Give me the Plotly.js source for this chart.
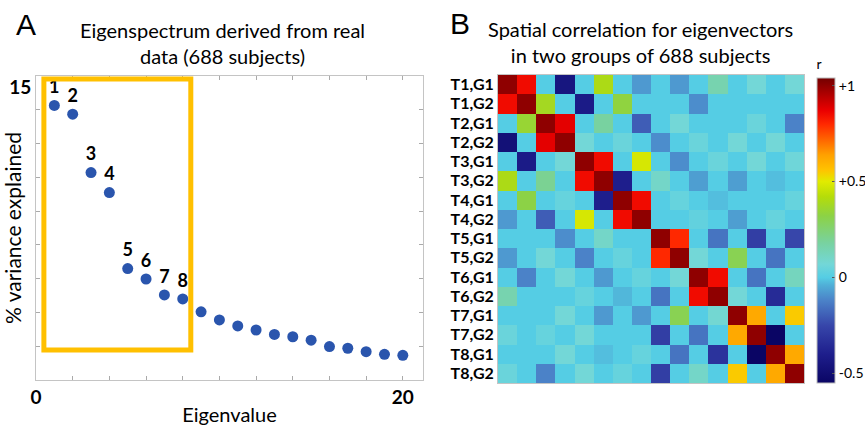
<!DOCTYPE html>
<html>
<head>
<meta charset="utf-8">
<script src="https://cdn.plot.ly/plotly-3.0.1.min.js"></script>
<style>html,body{margin:0;padding:0;background:#fff;}#chart{width:865px;height:426px;}</style>
</head>
<body>
<div id="chart"></div>
<script>
// ---- Panel A data ----
const eigenIndex = [1,2,3,4,5,6,7,8,9,10,11,12,13,14,15,16,17,18,19,20];
const varianceExplained = [14.13,13.87,12.14,11.55,9.30,8.99,8.52,8.40,8.02,7.78,7.60,7.48,7.35,7.28,7.18,6.99,6.94,6.84,6.76,6.73];
const pointLabels = ['1','2','3','4','5','6','7','8','','','','','','','','','','','',''];
const xTickVals = [0,2,4,6,8,10,12,14,16,18,20];
const xTickText = ['0','','','','','','','','','','20'];
const yTickVals = [6,7,8,9,10,11,12,13,14,15];
const yTickText = ['','','','','','','','','','15'];

// ---- Panel B data ----
const groupLabels = ['T1,G1','T1,G2','T2,G1','T2,G2','T3,G1','T3,G2','T4,G1','T4,G2',
                     'T5,G1','T5,G2','T6,G1','T6,G2','T7,G1','T7,G2','T8,G1','T8,G2'];
const rowT1G1 = [1.00,0.85,0.00,-0.45,0.00,0.40,0.00,-0.08,0.00,-0.08,0.00,0.15,0.00,0.07,0.00,0.07];
const rowT1G2 = [0.85,1.00,0.38,0.00,-0.42,0.00,0.33,0.00,0.00,0.00,-0.10,0.00,0.00,0.00,0.00,0.00];
const rowT2G1 = [0.00,0.35,1.00,0.88,0.00,0.18,0.00,-0.20,0.00,0.07,0.00,0.00,0.00,0.05,0.00,-0.12];
const rowT2G2 = [-0.48,0.00,0.88,1.00,0.07,0.00,0.05,0.00,-0.10,0.00,0.05,0.00,0.07,0.00,0.07,0.00];
const rowT3G1 = [0.00,-0.42,0.00,0.07,1.00,0.85,0.00,0.48,0.00,-0.10,0.00,0.05,0.00,0.07,0.00,0.06];
const rowT3G2 = [0.40,0.00,0.20,0.00,0.85,1.00,-0.40,0.00,0.10,0.00,-0.07,0.00,-0.07,0.00,-0.02,0.00];
const rowT4G1 = [0.00,0.32,0.00,0.04,0.00,-0.40,1.00,0.85,0.00,0.04,0.00,-0.02,0.00,0.00,0.00,0.04];
const rowT4G2 = [-0.08,0.00,-0.20,0.00,0.48,0.00,0.85,1.00,0.00,0.00,0.03,0.00,-0.07,0.00,0.04,0.00];
const rowT5G1 = [0.00,0.00,0.00,-0.10,0.00,0.10,0.00,0.00,1.00,0.80,0.00,-0.15,0.00,-0.28,0.00,-0.25];
const rowT5G2 = [-0.08,0.00,0.07,0.00,-0.12,0.00,0.04,0.00,0.80,1.00,0.07,0.00,0.30,0.00,-0.15,0.00];
const rowT6G1 = [0.00,-0.12,0.00,0.07,0.00,-0.08,0.00,0.04,0.00,0.07,1.00,0.85,0.00,-0.15,0.00,0.12];
const rowT6G2 = [0.15,0.00,0.00,0.00,0.04,0.00,-0.03,0.00,-0.15,0.00,0.85,1.00,0.07,0.00,-0.35,0.00];
const rowT7G1 = [0.00,0.00,0.00,0.07,0.00,-0.08,0.00,-0.08,0.00,0.30,0.00,0.08,1.00,0.62,0.00,0.55];
const rowT7G2 = [0.05,0.00,0.04,0.00,0.07,0.00,0.00,0.00,-0.28,0.00,-0.15,0.00,0.62,1.00,-0.55,0.00];
const rowT8G1 = [0.00,0.00,0.00,0.07,0.00,-0.02,0.00,0.04,0.00,-0.15,0.00,-0.32,0.00,-0.55,1.00,0.62];
const rowT8G2 = [0.05,0.00,-0.12,0.00,0.07,0.00,0.04,0.00,-0.28,0.00,0.10,0.00,0.55,0.00,0.62,1.00];
const corrMatrix = [rowT1G1,rowT1G2,rowT2G1,rowT2G2,rowT3G1,rowT3G2,rowT4G1,rowT4G2,
                    rowT5G1,rowT5G2,rowT6G1,rowT6G2,rowT7G1,rowT7G2,rowT8G1,rowT8G2];
const cbTickVals = [1,0.5,0,-0.5];
const cbTickText = ['+1','+0.5','0','-0.5'];

// ---- Styling ----
const FONT = 'Lato, "Open Sans", sans-serif';
const W = 865, H = 426;
const px = v => v / W;
const py = v => 1 - v / H;

const zMin = -0.55, zMax = 1.04;
const t = v => (v - zMin) / (zMax - zMin);
const colorscale = [
  [0, 'rgb(10,5,100)'],
  [t(-0.40), 'rgb(30,30,140)'],
  [t(-0.25), 'rgb(55,70,170)'],
  [t(-0.12), 'rgb(75,130,200)'],
  [t(-0.04), 'rgb(80,175,215)'],
  [t(0.00), 'rgb(85,205,228)'],
  [t(0.07), 'rgb(115,215,215)'],
  [t(0.18), 'rgb(120,210,160)'],
  [t(0.32), 'rgb(140,210,70)'],
  [t(0.42), 'rgb(180,220,10)'],
  [t(0.50), 'rgb(225,235,0)'],
  [t(0.56), 'rgb(255,195,0)'],
  [t(0.64), 'rgb(255,160,0)'],
  [t(0.80), 'rgb(255,40,0)'],
  [t(0.87), 'rgb(235,0,0)'],
  [1, 'rgb(115,0,0)']
];

const scatter = {
  type: 'scatter', mode: 'markers+text',
  x: eigenIndex, y: varianceExplained,
  text: pointLabels, textposition: 'top center',
  textfont: {family: FONT, size: 18, color: '#000', weight: 700},
  marker: {size: 11, color: '#2a55ad'},
  xaxis: 'x', yaxis: 'y', hoverinfo: 'x+y', showlegend: false
};

const heat = {
  type: 'heatmap', z: corrMatrix, x: groupLabels, y: groupLabels,
  xaxis: 'x2', yaxis: 'y2',
  zmin: zMin, zmax: zMax, colorscale: colorscale,
  colorbar: {
    x: px(817), xanchor: 'left', y: py(383), yanchor: 'bottom',
    len: (383 - 56) / H, lenmode: 'fraction', thickness: 18, thicknessmode: 'pixels',
    xpad: 0, ypad: 0,
    outlinewidth: 1, outlinecolor: '#bbb',
    tickvals: cbTickVals, ticktext: cbTickText,
    ticks: 'inside', ticklen: 3, tickcolor: '#555',
    tickfont: {family: FONT, size: 14, color: '#000'},
    title: {text: '  r', side: 'top', font: {family: FONT, size: 14, color: '#000'}}
  }
};

const layout = {
  width: W, height: H,
  margin: {l: 0, r: 0, t: 0, b: 0, autoexpand: false},
  paper_bgcolor: '#fff', plot_bgcolor: '#fff',
  font: {family: FONT, color: '#000'},
  xaxis: {
    domain: [px(36), px(423)], range: [0, 21.1],
    tickvals: xTickVals, ticktext: xTickText,
    ticks: 'inside', ticklen: 4, tickcolor: '#aaa',
    showline: true, linecolor: '#c4c4c4', linewidth: 1, mirror: 'ticks',
    showgrid: false, zeroline: false,
    tickfont: {family: FONT, size: 19, color: '#000', weight: 700},
    title: {text: 'Eigenvalue', font: {family: FONT, size: 20, color: '#000'}, standoff: 5}
  },
  yaxis: {
    domain: [py(380), py(76)], range: [6, 15],
    tickvals: yTickVals, ticktext: yTickText,
    ticks: 'inside', ticklen: 4, tickcolor: '#aaa',
    showline: true, linecolor: '#c4c4c4', linewidth: 1, mirror: 'ticks',
    showgrid: false, zeroline: false,
    ticklabelshift: 11,
    tickfont: {family: FONT, size: 19, color: '#000', weight: 700},
    title: {text: '% variance explained', font: {family: FONT, size: 21, color: '#000'}, standoff: 0}
  },
  xaxis2: {
    domain: [px(498), px(804)], anchor: 'y2',
    type: 'category', categoryarray: groupLabels,
    showticklabels: false, ticks: '', showgrid: false, zeroline: false,
    showline: true, linecolor: '#c4c4c4', mirror: true
  },
  yaxis2: {
    domain: [py(383), py(75)], anchor: 'x2',
    type: 'category', categoryarray: groupLabels, autorange: 'reversed',
    ticks: '', showgrid: false, zeroline: false,
    showline: true, linecolor: '#c4c4c4', mirror: true,
    tickfont: {family: FONT, size: 16, color: '#000', weight: 700}
  },
  shapes: [{
    type: 'rect', xref: 'x', yref: 'y',
    x0: 0.43, x1: 8.44, y0: 6.89, y1: 14.91,
    line: {color: '#ffc000', width: 5}, fillcolor: 'rgba(0,0,0,0)'
  }],
  annotations: [
    {text: 'A', xref: 'paper', yref: 'paper', x: px(25.5), y: py(24), xanchor: 'center', yanchor: 'middle', showarrow: false,
     font: {family: '"Liberation Sans", Arial, sans-serif', size: 30, color: '#000'}},
    {text: 'B', xref: 'paper', yref: 'paper', x: px(460), y: py(23.5), xanchor: 'center', yanchor: 'middle', showarrow: false,
     font: {family: '"Liberation Sans", Arial, sans-serif', size: 30, color: '#000'}},
    {text: 'Eigenspectrum derived from real<br>data (688 subjects)', xref: 'paper', yref: 'paper',
     x: px(223), y: py(43.5), xanchor: 'center', yanchor: 'middle', showarrow: false, align: 'center',
     font: {family: FONT, size: 20, color: '#000'}},
    {text: 'Spatial correlation for eigenvectors<br>in two groups of 688 subjects', xref: 'paper', yref: 'paper',
     x: px(640), y: py(41.5), xanchor: 'center', yanchor: 'middle', showarrow: false, align: 'center',
     font: {family: FONT, size: 20, color: '#000'}}
  ]
};

Plotly.newPlot('chart', [scatter, heat], layout, {displayModeBar: false, staticPlot: true});
</script>
</body>
</html>
